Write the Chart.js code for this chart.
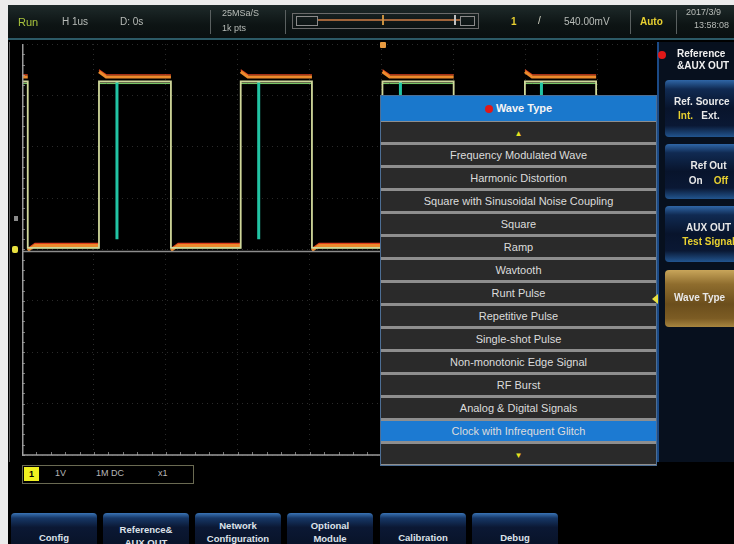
<!DOCTYPE html>
<html>
<head>
<meta charset="utf-8">
<script src="https://cdn.jsdelivr.net/npm/chart.js@4"></script>
<style>
  html, body { margin: 0; padding: 0; }
  body { width: 734px; height: 544px; overflow: hidden; background: #ececec; position: relative;
         font-family: "Liberation Sans", Arial, sans-serif; }
  #scope { position: absolute; left: 8px; top: 5px; width: 726px; height: 539px; background: #000; }
  .abs { position: absolute; white-space: nowrap; }
  #topbar { position: absolute; left: 8px; top: 5px; width: 726px; height: 33px;
            background: linear-gradient(#1e2a2a, #0d1414 60%, #0a1010); border-bottom: 2px solid #2c5a66; }
  .tb { position: absolute; font-size: 10px; color: #b8bcb8; }
  .sep { position: absolute; top: 5px; width: 1px; height: 24px; background: #5a6060; }
  #wrap { position: absolute; left: 22px; top: 44px; width: 636px; height: 412px; }
  #menu { position: absolute; left: 380px; top: 95px; width: 275px; height: 369px;
          border: 1px solid #4d6e94; background: #8e8e8e; }
  .row { position: absolute; left: 0; width: 275px; height: 21px; background: #2a2a2a; color: #dcdcdc;
         font-size: 11px; text-align: center; line-height: 21px; }
  #rpanel { position: absolute; left: 657px; top: 42px; width: 77px; height: 420px; background: #07101e;
            border-left: 2px solid #1b4a86; }
  .rbtn { position: absolute; left: 6px; width: 78px; border-radius: 4px; color: #e8e8e8; font-weight: bold;
          font-size: 10px; text-align: left; padding-left: 9px; box-sizing: border-box;
          background: linear-gradient(#2f66a6 0%, #102a52 16%, #08142c 50%, #0a1834 80%, #22558f 100%); }
  .gold { background: linear-gradient(#c8a55a 0%, #8f6d2e 25%, #6b4e1c 60%, #7c5c24 85%, #a88640 100%); }
  .bbtn { position: absolute; top: 513px; width: 86px; height: 36px; border-radius: 4px; color: #dde2ea;
          font-weight: bold; font-size: 9.5px; text-align: center;
          background: linear-gradient(#3a74b6 0%, #163766 14%, #0b1834 40%, #081226 100%); }
  .y { color: #e8d030; }
</style>
</head>
<body>
<div id="scope"></div>
<div class="abs" style="left:9px;top:42px;width:1px;height:420px;background:#5a5a5a"></div>
<div id="wrap"><canvas id="c" width="636" height="412"></canvas></div>

<div id="topbar">
  <div class="tb" style="left:10px;top:11px;color:#a8c23c;font-size:11px">Run</div>
  <div class="tb" style="left:54px;top:11px">H 1us</div>
  <div class="tb" style="left:112px;top:11px">D: 0s</div>
  <div class="sep" style="left:202px"></div>
  <div class="tb" style="left:214px;top:3px;font-size:9px">25MSa/S</div>
  <div class="tb" style="left:214px;top:18px;font-size:9px">1k pts</div>
  <div class="sep" style="left:277px"></div>
  <div class="abs" style="left:284px;top:8px;width:185px;height:14px;border:1px solid #6a6a6a"></div>
  <div class="abs" style="left:288px;top:11px;width:20px;height:8px;border:1px solid #8a8a8a"></div>
  <div class="abs" style="left:310px;top:14px;width:142px;height:2px;background:#a0643a"></div>
  <div class="abs" style="left:374px;top:10px;width:2px;height:10px;background:#c89040"></div>
  <div class="abs" style="left:446px;top:10px;width:2px;height:10px;background:#c0c0c0"></div>
  <div class="abs" style="left:452px;top:11px;width:13px;height:8px;border:1px solid #8a8a8a"></div>
  <div class="tb y" style="left:503px;top:11px;font-weight:bold">1</div>
  <div class="tb" style="left:530px;top:10px;color:#d8d8c8">/</div>
  <div class="tb" style="left:556px;top:11px">540.00mV</div>
  <div class="sep" style="left:622px"></div>
  <div class="tb y" style="left:632px;top:11px;font-weight:bold">Auto</div>
  <div class="sep" style="left:668px"></div>
  <div class="tb" style="left:678px;top:2px;font-size:9px">2017/3/9</div>
  <div class="tb" style="left:686px;top:15px;font-size:9px">13:58:08</div>
</div>

<!-- screen markers -->
<div class="abs" style="left:380px;top:42px;width:6px;height:6px;background:#e89a40;border-radius:1px"></div>
<div class="abs" style="left:12px;top:246px;width:6px;height:7px;background:#e8e040;border-radius:2px"></div>
<div class="abs" style="left:14px;top:216px;width:4px;height:5px;background:#8a8a8a"></div>
<div class="abs" style="left:653px;top:244px;width:6px;height:7px;background:#e8a050"></div>

<div id="menu"></div>

<div id="rpanel">
  <div class="abs" style="left:-1px;top:9px;width:8px;height:8px;background:#e01818;border-radius:50%"></div>
  <div class="abs" style="left:18px;top:6px;font-size:10px;font-weight:bold;color:#f0f0f0;line-height:12px">Reference<br>&amp;AUX OUT</div>
  <div class="rbtn" style="top:38px;height:57px"><div style="margin-top:16px">Ref. Source</div><div style="margin-top:3px;padding-left:4px"><span class="y">Int.</span>&nbsp;&nbsp; Ext.</div></div>
  <div class="rbtn" style="top:102px;height:55px;text-align:center"><div style="margin-top:16px">Ref Out</div><div style="margin-top:4px">On&nbsp;&nbsp;&nbsp; <span class="y">Off</span></div></div>
  <div class="rbtn" style="top:164px;height:56px;text-align:center"><div style="margin-top:16px">AUX OUT</div><div style="margin-top:3px" class="y">Test Signal</div></div>
  <div class="rbtn gold" style="top:228px;height:57px"><div style="margin-top:22px">Wave Type</div></div>
  <div class="abs" style="left:-7px;top:252px;width:0;height:0;border-top:5px solid transparent;border-bottom:5px solid transparent;border-right:6px solid #e8e040"></div>
</div>

<div class="abs" style="left:22px;top:465px;width:170px;height:17px;border:1px solid #6a6a52"></div>
<div class="abs" style="left:24px;top:467px;width:15px;height:14px;background:#f0f020;color:#000;font-size:9px;font-weight:bold;text-align:center;line-height:14px">1</div>
<div class="abs" style="left:55px;top:468px;font-size:9px;color:#b8b8b8">1V</div>
<div class="abs" style="left:96px;top:468px;font-size:9px;color:#b8b8b8">1M DC</div>
<div class="abs" style="left:158px;top:468px;font-size:9px;color:#b8b8b8">x1</div>

<div class="bbtn" style="left:11px"><div style="margin-top:19px">Config</div></div>
<div class="bbtn gold" style="left:103px"><div style="margin-top:10px;line-height:13px">Reference&amp;<br>AUX OUT</div></div>
<div class="bbtn" style="left:195px"><div style="margin-top:6px;line-height:13px">Network<br>Configuration</div></div>
<div class="bbtn" style="left:287px"><div style="margin-top:6px;line-height:13px">Optional<br>Module</div></div>
<div class="bbtn" style="left:380px"><div style="margin-top:19px">Calibration</div></div>
<div class="bbtn" style="left:472px"><div style="margin-top:19px">Debug</div></div>

<script>
// clock with infrequent glitch, 1V/div, 1us/div
const edgeTimes = [0.08, 1.07, 2.07, 3.04, 4.03, 5.01, 6.00, 6.99, 7.98]; // us, starts high
const glitchTimes = [1.32, 3.29, 5.26, 7.22];
const glitchLow = 0.2;
const highLevel = 3.36;
const lowLevel = 0.08;
const greenHigh = 3.27;
const greenLow = 0.03;
const groundLevel = -0.04;
const tEnd = 8.84;

const menuItems = ['Frequency Modulated Wave', 'Harmonic Distortion', 'Square with Sinusoidal Noise Coupling',
  'Square', 'Ramp', 'Wavtooth', 'Runt Pulse', 'Repetitive Pulse', 'Single-shot Pulse',
  'Non-monotonic Edge Signal', 'RF Burst', 'Analog & Digital Signals', 'Clock with Infrequent Glitch'];
const selectedItem = 'Clock with Infrequent Glitch';

// menu
const menu = document.getElementById('menu');
function addRow(y, h, html, bg, extra) {
  const d = document.createElement('div');
  d.className = 'row';
  d.style.top = y + 'px';
  d.style.height = h + 'px';
  d.style.lineHeight = h + 'px';
  if (bg) d.style.background = bg;
  d.innerHTML = html;
  if (extra) Object.assign(d.style, extra);
  menu.appendChild(d);
}
addRow(0, 25, '<span style="display:inline-block;width:8px;height:8px;border-radius:50%;background:#e01818;margin-right:3px;vertical-align:-1px"></span>Wave Type',
  '#1a78cc', { fontWeight: 'bold', color: '#f4f4f4', fontSize: '11px' });
let rowY = 26;
addRow(rowY, 20, '<span style="color:#e8e020;font-size:8px">&#9650;</span>');
rowY += 23;
menuItems.forEach(t => {
  addRow(rowY, 20, t, t === selectedItem ? '#1c7ad2' : null);
  rowY += 23;
});
addRow(rowY, 368 - rowY, '<span style="color:#e8e020;font-size:8px">&#9660;</span>');

// build traces from edges
function stepPoints(hi, lo) {
  const pts = [{ x: 0, y: hi }];
  let level = hi;
  edgeTimes.forEach(t => {
    pts.push({ x: t, y: level });
    level = level === hi ? lo : hi;
    pts.push({ x: t, y: level });
  });
  pts.push({ x: tEnd, y: level });
  return pts;
}
function flatPoints(hi, lo, ringHi, ringLo) {
  const pts = [];
  let start = 0, level = hi;
  const bounds = edgeTimes.concat([tEnd]);
  bounds.forEach((t, i) => {
    if (i > 0) pts.push({ x: start, y: level === hi ? hi + ringHi : lo + ringLo });
    else pts.push({ x: start, y: level });
    pts.push({ x: Math.min(start + 0.1, t), y: level });
    pts.push({ x: t, y: level });
    pts.push({ x: t, y: null });
    start = t;
    level = level === hi ? lo : hi;
  });
  return pts;
}
const glitchPts = [];
glitchTimes.forEach(t => {
  glitchPts.push({ x: t, y: greenHigh }, { x: t, y: glitchLow }, { x: t, y: null });
});

const axesAndTicks = {
  id: 'axesAndTicks',
  afterDatasetsDraw(chart) {
    const { ctx, chartArea, scales } = chart;
    ctx.save();
    ctx.strokeStyle = '#9a9a9a';
    ctx.lineWidth = 1.5;
    ctx.beginPath();
    ctx.moveTo(chartArea.left + 0.75, chartArea.top);
    ctx.lineTo(chartArea.left + 0.75, chartArea.bottom);
    ctx.lineTo(chartArea.right, chartArea.bottom);
    ctx.stroke();
    ctx.strokeStyle = 'rgba(170,170,170,0.7)';
    ctx.lineWidth = 1;
    ctx.beginPath();
    for (let v = 0; v <= tEnd; v += 0.2) {
      const px = Math.round(scales.x.getPixelForValue(v)) + 0.5;
      ctx.moveTo(px, chartArea.bottom); ctx.lineTo(px, chartArea.bottom - 3);
    }
    for (let v = -4; v <= 4; v += 0.2) {
      const py = Math.round(scales.y.getPixelForValue(v)) + 0.5;
      ctx.moveTo(chartArea.left, py); ctx.lineTo(chartArea.left + 3, py);
    }
    ctx.stroke();
    ctx.restore();
  }
};

new Chart(document.getElementById('c'), {
  type: 'line',
  data: {
    datasets: [
      { label: 'ground', data: [{ x: 0, y: groundLevel }, { x: tEnd, y: groundLevel }], borderColor: '#8c8c8c', borderWidth: 1.5 },
      { label: 'ch1', data: stepPoints(greenHigh, greenLow), borderColor: '#cfd79a', borderWidth: 1.8 },
      { label: 'glitch', data: glitchPts, borderColor: '#22c4a4', borderWidth: 3 },
      { label: 'persist', data: flatPoints(highLevel, lowLevel, 0.1, -0.1), borderColor: '#ec8a2c', borderWidth: 3 },
      { label: 'persist2', data: flatPoints(highLevel + 0.04, lowLevel + 0.04, 0.1, -0.1), borderColor: '#e0401e', borderWidth: 1.2 },
      { label: 'green', data: flatPoints(greenHigh - 0.04, greenLow, 0, 0), borderColor: '#7ccf6a', borderWidth: 1 }
    ]
  },
  options: {
    responsive: false,
    animation: false,
    layout: { padding: { bottom: 1 } },
    elements: { point: { radius: 0 }, line: { tension: 0 } },
    plugins: { legend: { display: false }, tooltip: { enabled: false } },
    scales: {
      x: {
        type: 'linear', min: 0, max: tEnd,
        ticks: { display: false, stepSize: 1 },
        grid: { color: 'rgba(150,150,150,0.28)', drawTicks: false },
        border: { display: false, dash: [1, 4] }
      },
      y: {
        type: 'linear', min: -4, max: 4,
        ticks: { display: false, stepSize: 1 },
        grid: { color: 'rgba(150,150,150,0.28)', drawTicks: false },
        border: { display: false, dash: [1, 4] }
      }
    }
  },
  plugins: [axesAndTicks]
});
</script>
</body>
</html>
